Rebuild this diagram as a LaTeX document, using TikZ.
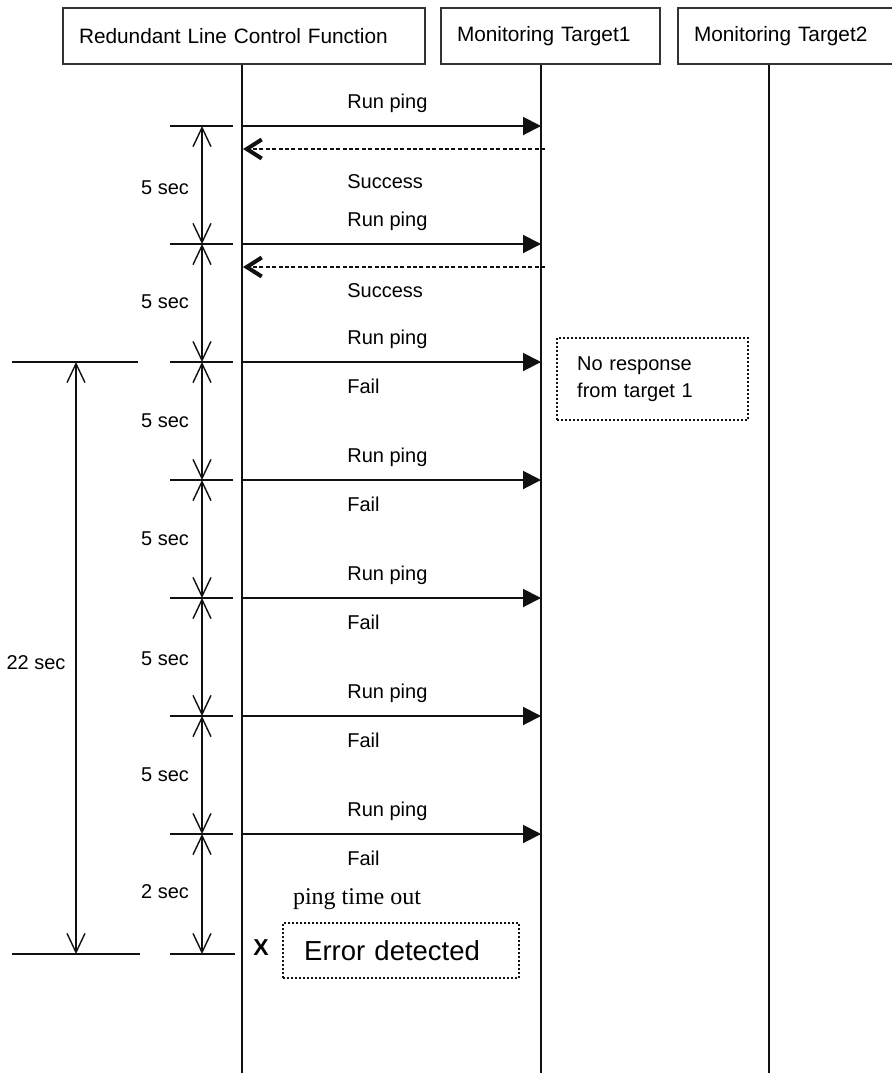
\documentclass[tikz,border=0pt]{standalone}
\usepackage{fontspec}
\setmainfont{Liberation Sans}
\newfontfamily\timeoutfont{Liberation Serif}
\usetikzlibrary{arrows.meta}
\definecolor{ink}{HTML}{111111}
\definecolor{boxline}{HTML}{333333}

\begin{document}
\begin{tikzpicture}[
  x=0.5pt, y=-0.5pt,
  head/.style={draw=boxline, line width=1pt, anchor=north west, minimum height=28pt, inner xsep=8pt, align=left, font=\fontsize{10.4}{12}\selectfont},
  lifeline/.style={draw=ink, line width=0.8pt},
  msg/.style={-{Triangle[length=9pt, width=9pt]}, line width=1pt, color=ink},
  reply/.style={-{Straight Barb[length=7.5pt, width=9.5pt, line width=2pt]}, line width=0.8pt, dash pattern=on 2pt off 1.2pt, color=ink},
  tick/.style={line width=0.9pt, color=ink},
  dim/.style={{Straight Barb[length=9.5pt, width=9pt]}-{Straight Barb[length=9.5pt, width=9pt]}, line width=0.7pt, color=ink},
  lbl/.style={font=\fontsize{10}{12}\selectfont, inner sep=0pt},
  note/.style={draw=ink, line width=1.2pt, dash pattern=on 1pt off 1pt, anchor=north west, align=left, inner xsep=10pt},
]
\useasboundingbox (0,0) rectangle (892,1073);

% headers and lifelines
\node[head, text width=165pt] (rlcf) at (62,7) {Redundant Line Control Function};
\node[head, text width=93.5pt] (tgt1) at (440,7) {Monitoring Target1};
\node[head, text width=96pt] (tgt2) at (677,7) {Monitoring Target2};
\coordinate (rlcfend) at (242,1073);
\coordinate (tgt1end) at (541,1073);
\coordinate (tgt2end) at (769,1073);
\draw[lifeline] (rlcf.south -| rlcfend) -- (rlcfend);
\draw[lifeline] (tgt1.south -| tgt1end) -- (tgt1end);
\draw[lifeline] (tgt2.south -| tgt2end) -- (tgt2end);

% ping messages and interval ticks
\foreach \i in {0,...,6}{
  \pgfmathsetmacro\y{126+118*\i}
  \coordinate (src\i) at (243,\y);
  \coordinate (dst\i) at (541,\y);
  \coordinate (dim\i) at (202,\y);
  \draw[msg] (src\i) -- (dst\i);
  \node[lbl, anchor=west] (run\i) at (347,\y-23) {Run ping};
  \draw[tick] ([xshift=-16pt]dim\i) -- ([xshift=15.5pt]dim\i);
}
\coordinate (dim7) at (202,954);
\draw[tick] ([xshift=-16pt]dim7) -- ([xshift=16.5pt]dim7);
\foreach \i [evaluate=\i as \j using int(\i+1)] in {0,...,6}
  \draw[dim] (dim\i) -- (dim\j);
\foreach \i/\t/\yy in {0/5 sec/188, 1/5 sec/302, 2/5 sec/421, 3/5 sec/539, 4/5 sec/659, 5/5 sec/775, 6/2 sec/892}
  \node[lbl] (gap\i) at (165,\yy) {\t};

% replies
\foreach \i/\yy/\ys in {0/149/182, 1/267/291}{
  \coordinate (back\i) at (545,\yy);
  \coordinate (home\i) at (243,\yy);
  \draw[reply] (back\i) -- (home\i);
  \node[lbl, anchor=west] (ok\i) at (347,\ys) {Success};
}
\foreach \i in {2,...,6}
  \node[lbl, anchor=west] (fail\i) at (347,150+118*\i) {Fail};

% overall interval
\coordinate (long0) at (76,362);
\coordinate (long1) at (76,954);
\draw[tick] ([xshift=-32pt]long0) -- ([xshift=31pt]long0);
\draw[tick] ([xshift=-32pt]long1) -- ([xshift=32pt]long1);
\draw[dim] (long0) -- (long1);
\node[lbl] (total) at (36,663) {22 sec};

% notes
\node[note, minimum width=95.5pt, minimum height=41pt, text width=75.5pt, font=\fontsize{10}{13.5}\selectfont] (noresp) at (556,337) {No response\\from target 1};
\node[font=\timeoutfont\fontsize{12}{14}\selectfont, inner sep=0pt] (timeout) at (357,899) {ping time out};
\node[font=\bfseries\fontsize{11.5}{13}\selectfont, inner sep=0pt] (cross) at (261,948) {X};
\node[note, minimum width=118pt, minimum height=27.5pt, text width=97pt, inner xsep=10.5pt, font=\fontsize{13.75}{16}\selectfont] (err) at (282,922) {Error detected};
\end{tikzpicture}
\end{document}
